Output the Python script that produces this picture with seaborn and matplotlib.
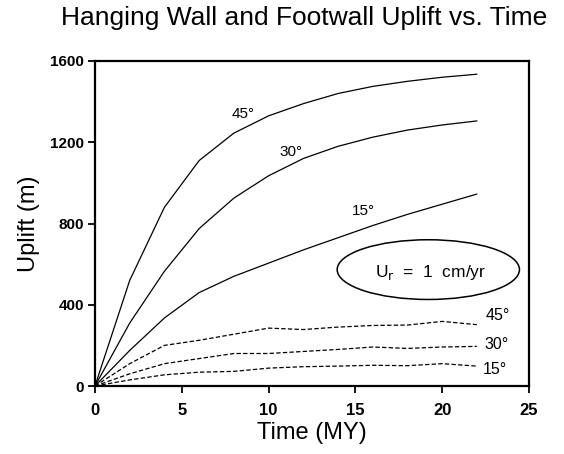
import numpy as np
import pandas as pd
import matplotlib
matplotlib.use("Agg")
import matplotlib.pyplot as plt
import seaborn as sns
from matplotlib.patches import Ellipse

# ---- data ----
time_my = [0, 2, 4, 6, 8, 10, 12, 14, 16, 18, 20, 22]
hw_45 = [0, 520, 880, 1110, 1245, 1330, 1390, 1440, 1475, 1500, 1520, 1535]
hw_30 = [0, 310, 565, 775, 925, 1035, 1120, 1180, 1225, 1260, 1285, 1305]
hw_15 = [0, 175, 335, 460, 540, 605, 670, 730, 790, 845, 895, 945]
fw_45 = [0, 110, 200, 225, 255, 285, 278, 290, 298, 300, 318, 302]
fw_30 = [0, 60, 110, 135, 160, 160, 170, 180, 192, 185, 192, 195]
fw_15 = [0, 30, 55, 68, 72, 88, 95, 98, 102, 100, 110, 98]
angle_labels = ["45°", "30°", "15°"]
x_ticks = [0, 5, 10, 15, 20, 25]
y_ticks = [0, 400, 800, 1200, 1600]

rows = []
for name, vals, wall in [("45", hw_45, "hanging"), ("30", hw_30, "hanging"), ("15", hw_15, "hanging"),
                         ("45", fw_45, "foot"), ("30", fw_30, "foot"), ("15", fw_15, "foot")]:
    for t, u in zip(time_my, vals):
        rows.append({"time": t, "uplift": u, "angle": name, "wall": wall, "series": wall + name})
df = pd.DataFrame(rows)

sns.set_style("ticks")
plt.rcParams["font.family"] = ["Liberation Sans", "DejaVu Sans"]
plt.rcParams["text.color"] = "black"
plt.rcParams["axes.labelcolor"] = "black"
plt.rcParams["xtick.color"] = "black"
plt.rcParams["ytick.color"] = "black"

fig = plt.figure(figsize=(5.64, 4.54), dpi=100)
ax = fig.add_axes([95 / 564, 1 - 386 / 454, (529 - 95) / 564, (386 - 61) / 454])

for s in df["series"].unique():
    sub = df[df["series"] == s]
    dashed = sub["wall"].iloc[0] == "foot"
    sns.lineplot(data=sub, x="time", y="uplift", ax=ax, color="black",
                 linewidth=0.9, linestyle=(0, (3.5, 1.8)) if dashed else "-",
                 legend=False, estimator=None)

ax.set_xlim(0, 25)
ax.set_ylim(0, 1600)
ax.set_xticks(x_ticks)
ax.set_yticks(y_ticks)
ax.set_xticklabels([str(v) for v in x_ticks], fontsize=12, fontweight="bold")
ax.set_yticklabels([str(v) for v in y_ticks], fontsize=11, fontweight="bold")
ax.tick_params(axis="x", direction="out", length=5, width=1.3, pad=7)
ax.tick_params(axis="y", direction="out", length=5, width=1.3, pad=3)
for sp in ax.spines.values():
    sp.set_visible(True)
    sp.set_linewidth(1.6)
    sp.set_color("black")

ax.set_xlabel("Time (MY)", fontsize=17, labelpad=3)
ax.set_ylabel("Uplift (m)", fontsize=17, labelpad=7)
fig.text(304 / 564, 1 - 18 / 454, "Hanging Wall and Footwall Uplift vs. Time",
         fontsize=19, ha="center", va="center")

# curve labels
hw_lab_pos = [(8.55, 1341), (11.3, 1154), (15.44, 860)]
fw_lab_pos = [(23.2, 345), (23.15, 205), (23.05, 82)]
for lab, (x, y) in zip(angle_labels, hw_lab_pos):
    ax.text(x, y, lab, fontsize=11, ha="center", va="center")
for lab, (x, y) in zip(angle_labels, fw_lab_pos):
    ax.text(x, y, lab, fontsize=11.5, ha="center", va="center")

ell = Ellipse((19.2, 573), 10.5, 294, facecolor="white", edgecolor="black", linewidth=1.1)
ax.add_patch(ell)
ax.text(19.35, 560, r"U$_{\mathrm{r}}$  =  1  cm/yr", fontsize=12.5, ha="center", va="center")

fig.savefig("out.png", dpi=100)
